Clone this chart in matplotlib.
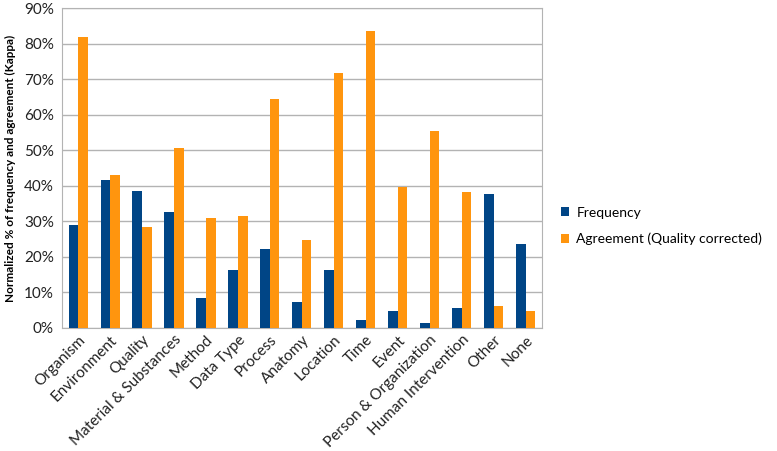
import numpy as np
import matplotlib.pyplot as plt
from matplotlib.ticker import PercentFormatter

# === DATOS ===
categorias = ['Organism', 'Environment', 'Quality', 'Material & Substances',
              'Method', 'Data Type', 'Process', 'Anatomy', 'Location', 'Time',
              'Event', 'Person & Organization', 'Human Intervention', 'Other', 'None']
frecuencia = [29.0, 41.6, 38.6, 32.5, 8.5, 16.3, 22.3, 7.2, 16.4, 2.1,
              4.7, 1.3, 5.5, 37.8, 23.7]
acuerdo = [82.0, 42.9, 28.5, 50.7, 30.8, 31.4, 64.5, 24.7, 71.7, 83.6,
           39.7, 55.4, 38.2, 6.2, 4.7]

plt.rcParams['font.family'] = ['Lato', 'DejaVu Sans']

fig = plt.figure(figsize=(7.77, 4.51), dpi=100)
ax = fig.add_axes([0.080, 0.273, 0.617, 0.709])

x = np.arange(len(categorias))
w = 0.3
ax.bar(x - w/2, frecuencia, w, color='#004586', label='Frequency', zorder=3)
ax.bar(x + w/2, acuerdo, w, color='#ff950e', label='Agreement (Quality corrected)', zorder=3)

ax.set_xlim(-0.5, len(categorias) - 0.5)
ax.set_ylim(0, 90)
ax.set_yticks(np.arange(0, 91, 10))
ax.yaxis.set_major_formatter(PercentFormatter(decimals=0))
ax.grid(axis='y', color='#b3b3b3', lw=1, zorder=0)
for s in ax.spines.values():
    s.set_color('#b3b3b3')
ax.tick_params(length=0, labelsize=11, colors='#222222')
ax.tick_params(axis='y', pad=6)
ax.set_xticks(x)
ax.set_xticklabels(categorias, rotation=45, ha='right', rotation_mode='anchor')
ax.set_ylabel('Normalized % of frequency and agreement (Kappa)',
              fontsize=8.5, fontweight='bold', labelpad=6)

fig.legend(loc='center left', bbox_to_anchor=(0.722, 0.499), frameon=False,
           fontsize=10, handlelength=0.6, handleheight=0.6, handletextpad=0.5,
           labelspacing=1.0, borderaxespad=0, borderpad=0)

fig.savefig('out.png', dpi=100)
